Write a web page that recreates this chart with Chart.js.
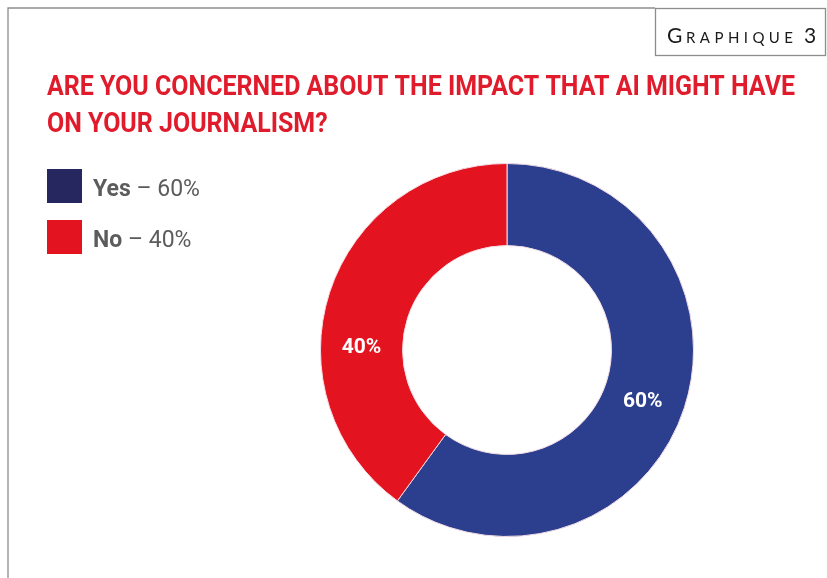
<!DOCTYPE html>
<html>
<head>
<meta charset="utf-8">
<style>
  html, body { margin: 0; padding: 0; background: #fff; }
  #wrap { width: 827px; height: 578px; position: relative; }
</style>
<script src="https://cdn.jsdelivr.net/npm/chart.js@4.4.1/dist/chart.umd.min.js"></script>
</head>
<body>
<div id="wrap"><canvas id="myChart" width="827" height="578"></canvas></div>
<script>
var labels = ["Yes", "No"];
var shares = [60, 40];
var colors = ["#2b3f8e", "#e3141f"];
var swatchColors = ["#27275f", "#e3141f"];
var titleLines = ["ARE YOU CONCERNED ABOUT THE IMPACT THAT AI MIGHT HAVE", "ON YOUR JOURNALISM?"];
// small angle nudge (degrees) for the in-ring percentage labels
var labelNudge = [3, -17];

// spread the letters of text evenly between x and x + width
function spreadText(ctx, text, x, y, width) {
    var total = 0;
    for (var k = 0; k < text.length; k++) total += ctx.measureText(text[k]).width;
    var gap = (width - total) / (text.length - 1);
    for (var m = 0; m < text.length; m++) {
        ctx.fillText(text[m], x, y);
        x += ctx.measureText(text[m]).width + gap;
    }
}

var decor = {
    id: "decor",
    beforeDraw: function (chart) {
        var ctx = chart.ctx;
        ctx.save();
        ctx.fillStyle = "#ffffff";
        ctx.fillRect(0, 0, chart.width, chart.height);

        // frame and caption box
        ctx.strokeStyle = "#8d8d8d";
        ctx.lineWidth = 1.3;
        ctx.beginPath();
        ctx.moveTo(8, 578);
        ctx.lineTo(8, 8);
        ctx.lineTo(655, 8);
        ctx.stroke();
        ctx.strokeRect(655.5, 8.5, 170, 47);

        // "Graphique 3" in small caps
        ctx.fillStyle = "#1a1a1a";
        ctx.textBaseline = "alphabetic";
        ctx.font = "21px Lato";
        ctx.fillText("G", 667, 43);
        ctx.font = "15px Lato";
        spreadText(ctx, "RAPHIQUE", 686, 43, 107);
        ctx.font = "21px Lato";
        ctx.fillText("3", 804, 43);

        // title, condensed to fit
        ctx.fillStyle = "#e01b2b";
        ctx.font = "bold 28px Roboto";
        var sx = 748 / ctx.measureText(titleLines[0]).width;
        for (var i = 0; i < titleLines.length; i++) {
            ctx.save();
            ctx.translate(47, 95 + i * 37);
            ctx.scale(sx, 1);
            ctx.fillText(titleLines[i], 0, 0);
            ctx.restore();
        }

        // legend
        for (var j = 0; j < labels.length; j++) {
            var y = 169 + j * 51;
            ctx.fillStyle = swatchColors[j];
            ctx.fillRect(47, y, 35, 34);
            ctx.fillStyle = "#5c5c5c";
            ctx.font = "bold 23px Roboto";
            ctx.fillText(labels[j], 93, y + 27);
            var tw = ctx.measureText(labels[j]).width;
            ctx.font = "23px Roboto";
            ctx.fillText(" \u2013 " + shares[j] + "%", 93 + tw, y + 27);
        }
        ctx.restore();
    },
    afterDatasetsDraw: function (chart) {
        var ctx = chart.ctx;
        var meta = chart.getDatasetMeta(0);
        ctx.save();
        ctx.fillStyle = "#ffffff";
        ctx.font = "bold 21px Roboto";
        ctx.textAlign = "center";
        ctx.textBaseline = "middle";
        meta.data.forEach(function (arc, i) {
            var p = arc.getProps(["x", "y", "startAngle", "endAngle", "innerRadius", "outerRadius"], true);
            var a = (p.startAngle + p.endAngle) / 2 + labelNudge[i] * Math.PI / 180;
            var r = (p.innerRadius + p.outerRadius) / 2;
            ctx.fillText(shares[i] + "%", p.x + Math.cos(a) * r, p.y + Math.sin(a) * r);
        });
        ctx.restore();
    }
};

var ctx = document.getElementById("myChart").getContext("2d");
var myChart = new Chart(ctx, {
    type: "doughnut",
    data: {
        labels: labels,
        datasets: [{
            data: shares,
            backgroundColor: colors,
            borderColor: "#f4dde6",
            borderWidth: 1
        }]
    },
    options: {
        responsive: false,
        animation: false,
        cutout: "56%",
        layout: { padding: { left: 320, right: 133, top: 163, bottom: 41 } },
        plugins: {
            legend: { display: false },
            tooltip: { enabled: false }
        }
    },
    plugins: [decor]
});
</script>
</body>
</html>
